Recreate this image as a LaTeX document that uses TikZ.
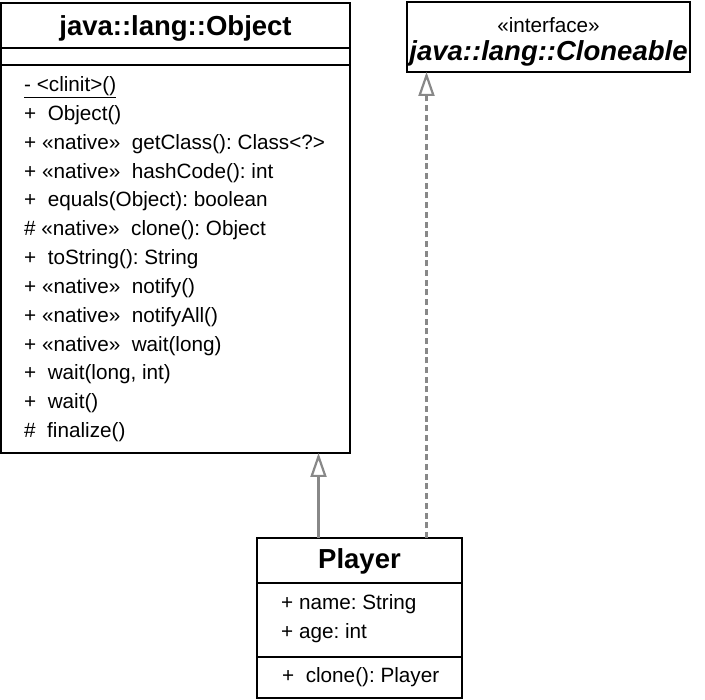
\documentclass[tikz,border=0pt]{standalone}
\usepackage{fontspec}
\setmainfont{Liberation Sans}
\usetikzlibrary{arrows.meta}
\definecolor{umlgray}{RGB}{136,136,136}
\frenchspacing

\begin{document}
\begin{tikzpicture}[
    x=1pt, y=-1pt,
    classbox/.style={rectangle, draw, line width=2pt, inner sep=0pt, outer sep=0pt, anchor=north west},
    classname/.style={anchor=base, inner sep=0pt, font=\fontsize{27.5}{33}\selectfont\bfseries},
    members/.style={anchor=north west, align=left, inner sep=0pt, font=\fontsize{20.7}{28.83}\selectfont},
    divider/.style={line width=2pt},
    inherit/.style={draw=umlgray, line width=2.8pt, -{Triangle[open, length=24pt, width=16pt, line width=2.2pt]}},
    realize/.style={inherit, dash pattern=on 6pt off 3.7pt}
]
    \useasboundingbox (0,0) rectangle (705,700);

    % java::lang::Object
    \node[classbox, minimum width=349pt, minimum height=450pt] (obj) at (1,3) {};
    \draw[divider] ([yshift=-45pt]obj.north west) -- ([yshift=-45pt]obj.north east);
    \draw[divider] ([yshift=-62pt]obj.north west) -- ([yshift=-62pt]obj.north east);
    \node[classname] (objname) at (175.5,36) {java::lang::Object};
    \node[members] (objops) at (24,76.4) {\underline{- <clinit>()}\\
        +\ \ Object()\\
        + «native»\ \ getClass(): Class<?>\\
        + «native»\ \ hashCode(): int\\
        +\ \ equals(Object): boolean\\
        \# «native»\ \ clone(): Object\\
        +\ \ toString(): String\\
        + «native»\ \ notify()\\
        + «native»\ \ notifyAll()\\
        + «native»\ \ wait(long)\\
        +\ \ wait(long, int)\\
        +\ \ wait()\\
        \#\ \ finalize()};

    % java::lang::Cloneable
    \node[classbox, minimum width=283pt, minimum height=70pt] (iface) at (407,2) {};
    \node[anchor=base, inner sep=0pt, font=\fontsize{20.7}{25}\selectfont] (ifacestereo) at (548.5,33) {«interface»};
    \node[classname, font=\fontsize{27.5}{33}\selectfont\bfseries\itshape] (ifacename) at (548.5,61) {java::lang::Cloneable};

    % Player
    \node[classbox, minimum width=205pt, minimum height=160pt] (player) at (257,538) {};
    \draw[divider] ([yshift=-45pt]player.north west) -- ([yshift=-45pt]player.north east);
    \draw[divider] ([yshift=-119pt]player.north west) -- ([yshift=-119pt]player.north east);
    \node[classname] (playername) at (359.5,569) {Player};
    \node[members] (playerattrs) at (281,594) {+ name: String\\+ age: int};
    \node[members] (playerops) at (282,667) {+\ \ clone(): Player};

    % relations
    \coordinate (objport) at ([xshift=-41pt]player.north);
    \coordinate (ifaceport) at ([xshift=67pt]player.north);
    \draw[inherit] (objport) -- (objport |- obj.south);
    \draw[realize] (ifaceport) -- (ifaceport |- iface.south);
\end{tikzpicture}
\end{document}
